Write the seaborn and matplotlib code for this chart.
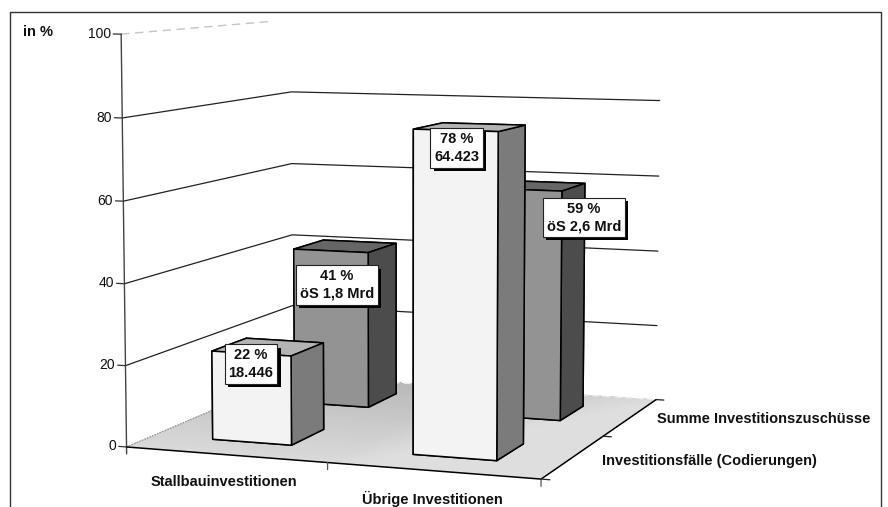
import numpy as np
import matplotlib
matplotlib.use('Agg')
import matplotlib.pyplot as plt
import matplotlib.patheffects as pe
from matplotlib.lines import Line2D
from mpl_toolkits.mplot3d import proj3d
import seaborn as sns

sns.set_theme(style='white')
plt.rcParams['font.family'] = ['Liberation Sans', 'DejaVu Sans']

# Daten
kategorien = ['Stallbauinvestitionen', 'Übrige Investitionen']
reihen = ['Investitionsfälle (Codierungen)', 'Summe Investitionszuschüsse']
faelle = [22, 78]
summe = [41, 59]
text_faelle = ['22 %\n18.446', '78 %\n64.423']
text_summe = ['41 %\nöS 1,8 Mrd', '59 %\nöS 2,6 Mrd']
z_ticks = [0, 20, 40, 60, 80, 100]

W, H = 888, 507
fig = plt.figure(figsize=(W / 100, H / 100), dpi=100)
ax = fig.add_subplot(projection='3d', computed_zorder=False)
ax.set_xlim(0, 2)
ax.set_ylim(0, 2)
ax.set_zlim(0, 100)
ax.set_xticks([])
ax.set_yticks([])
ax.set_zticks([])
ax.set_axis_off()
ax.patch.set_alpha(0)

# Kamera (an das Original angepasst)
ax.view_init(6.699, -69.891)
ax.set_proj_type('persp', focal_length=0.679)
ax.set_box_aspect((3.144, 3.139, 2.992))

# Achsenposition aus Skala/Versatz in Pixeln
s, tx, ty = 3717.6, 404.1, 227.4
(x0, y0), (x1, y1) = ax.transLimits.inverted().transform([[0, 0], [1, 1]])
ax.set_position([(tx + s * x0) / W, (H - ty + s * y0) / H, s * (x1 - x0) / W, s * (y1 - y0) / H])


# Text an einem 3D-Punkt, als normaler 2D-Text
def text_3d(x, y, z, txt, **kw):
    px, py, _ = proj3d.proj_transform(x, y, z, ax.get_proj())
    ax.text2D(px, py, txt, transform=ax.transData, va='center', color='#111111', **kw)


# Boden mit Verlauf
gx, gy = np.meshgrid(np.linspace(0, 2, 41), np.linspace(0, 2, 41))
mx = (gx[:-1, :-1] + gx[1:, 1:]) / 4
my = (gy[:-1, :-1] + gy[1:, 1:]) / 4
grau = np.clip(0.72 + 0.14 * np.clip((mx - 0.5) / 0.5, 0, 1) + 0.13 * (1 - my), 0, 0.87)
ax.plot_surface(gx, gy, np.zeros_like(gx), facecolors=plt.cm.gray(grau), shade=False,
                rstride=1, cstride=1, linewidth=0, antialiased=False, zorder=1)
ax.plot([0, 0], [0, 2], [0, 0], color='#999999', lw=1, ls=(0, (1, 1)), zorder=1.5)
ax.plot([0, 2], [2, 2], [0, 0], color='#eeeeee', lw=1, ls=(0, (5, 3)), zorder=1.5)

# Gitterlinien an den Wänden
for z in z_ticks[1:-1]:
    ax.plot([0, 0, 2], [0, 2, 2], [z, z, z], color='#222222', lw=0.9, zorder=2)
ax.plot([0, 0], [0, 1.75], [100, 100], color='#c4c4c4', lw=1, ls=(0, (6, 4)), zorder=2)

# Achsen
ax.plot([0, 0], [0, 0], [-1.7, 100], color='#444444', lw=1, zorder=2.5)
ax.plot([0, 2, 2], [0, 0, 2], [0, 0, 0], color='black', lw=1.1, zorder=2.5)
for z in z_ticks:
    ax.plot([-0.04, 0], [0, 0], [z, z], color='#333333', lw=0.9, zorder=2.5)
    text_3d(-0.052, 0, z, str(z), ha='right', fontsize=10)
for x in [1, 2]:
    ax.plot([x, x], [0, 0], [0, -1.7], color='#555555', lw=0.9, zorder=2.5)
for y in [0, 1, 2]:
    ax.plot([2, 2.04], [y, y], [0, 0], color='#222222', lw=0.9, zorder=2.5)

# Säulen: hintere Reihe zuerst
# Flächen: unten, oben, vorne, hinten, links, rechts
farben_hinten = ['#666666', '#666666', '#939393', '#666666', '#666666', '#4c4c4c']
farben_vorne = ['#b3b3b3', '#b3b3b3', '#f3f3f3', '#b3b3b3', '#b3b3b3', '#7b7b7b']
for i in range(2):
    ax.bar3d(i + 0.3, 1.3, 0, 0.4, 0.4, summe[i], color=farben_hinten, shade=False,
             edgecolor='black', linewidth=1.1, zorder=3 + i * 2)
    ax.bar3d(i + 0.3, 0.3, 0, 0.4, 0.4, faelle[i], color=farben_vorne, shade=False,
             edgecolor='black', linewidth=1.1, zorder=4 + i * 2)

# Achsenbeschriftung
for i, name in enumerate(kategorien):
    text_3d(i * 1.01 + 0.49, 0, -6.6, name, ha='center', fontsize=10.5, fontweight='bold')
for i, name in enumerate(reihen):
    text_3d(2.135, i + 0.5, i * 0.5 - 0.5, name, ha='left', fontsize=10.5, fontweight='bold')
fig.text(23 / W, 1 - 31.5 / H, 'in %', ha='left', va='center', fontsize=10.5, fontweight='bold', color='#111111')


# Wertekästen mit Schatten
def kasten(px, py, txt):
    t = fig.text(px / W, 1 - py / H, txt, ha='center', va='center', fontsize=10.5, fontweight='bold',
                 color='#111111', linespacing=1.34, multialignment='center',
                 bbox=dict(boxstyle='square,pad=0.26', facecolor='white', edgecolor='#222222', linewidth=0.8))
    t.get_bbox_patch().set_path_effects([
        pe.SimplePatchShadow(offset=(2.4, -2.4), shadow_rgbFace='black', alpha=1), pe.Normal()])


kasten(251, 364, text_faelle[0])
kasten(337, 285, text_summe[0])
kasten(456.5, 148, text_faelle[1])
kasten(584, 217.5, text_summe[1])

# Rahmen (unten abgeschnitten)
fig.add_artist(Line2D([10 / W, 10 / W, 881 / W, 881 / W], [0, 1 - 12 / H, 1 - 12 / H, 0],
                      color='#333333', lw=1))

fig.savefig('out.png', dpi=100)
